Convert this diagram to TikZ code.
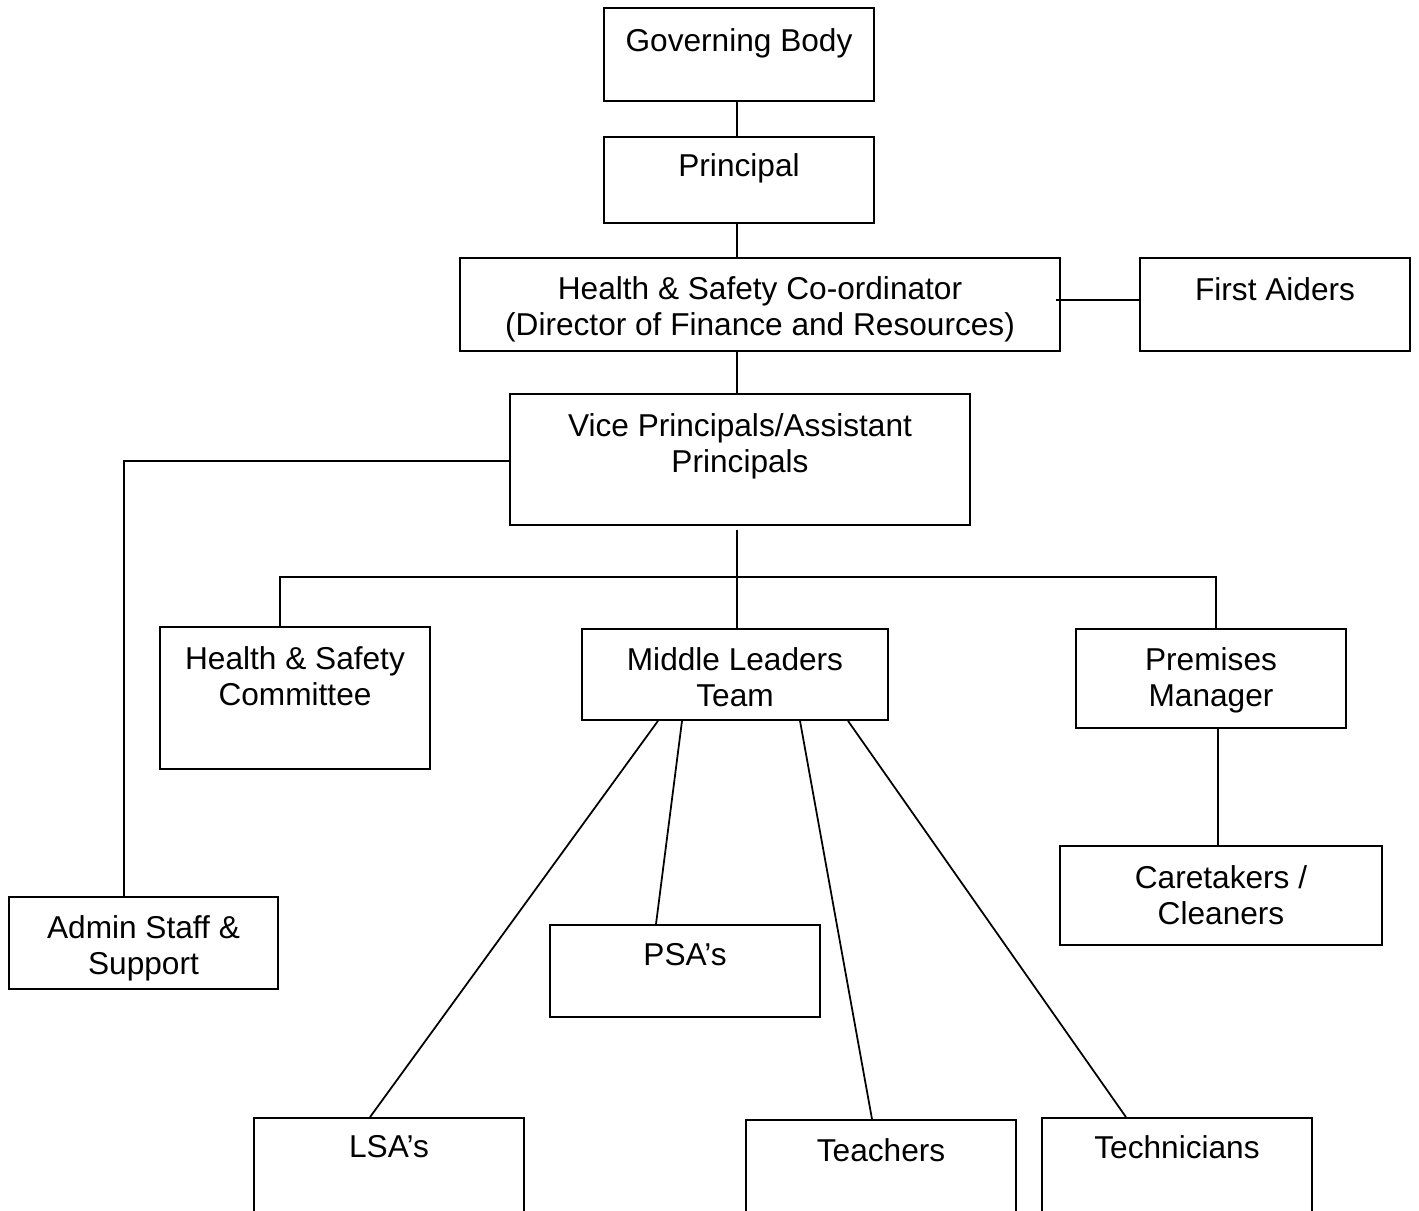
\documentclass[tikz,border=0pt]{standalone}
\usepackage{fontspec}
\setmainfont{Liberation Sans}
\usetikzlibrary{fit}
\begin{document}
\begin{tikzpicture}[x=0.02cm,y=-0.02cm,
  box/.style={draw,line width=1pt,inner sep=0pt,rectangle},
  txt/.style={anchor=north,inner sep=0pt,align=center,font=\fontsize{18}{20.8}\selectfont},
  conn/.style={line width=1pt}]
\useasboundingbox (0,0) rectangle (1419,1210);
\clip (0,0) rectangle (1419,1210);
\fill[white] (0,0) rectangle (1419,1210);
% boxes
\node[box,fit={(604,8)(874,101)}] (gb) {};
\node[box,fit={(604,137)(874,223)}] (pr) {};
\node[box,fit={(460,258)(1060,351)}] (hs) {};
\node[box,fit={(1140,258)(1410,351)}] (fa) {};
\node[box,fit={(510,394)(970,525)}] (vp) {};
\node[box,fit={(160,627)(430,769)}] (hsc) {};
\node[box,fit={(582,629)(888,720)}] (mlt) {};
\node[box,fit={(1076,629)(1346,728)}] (pm) {};
\node[box,fit={(1060,846)(1382,945)}] (cc) {};
\node[box,fit={(9,897)(278,989)}] (ad) {};
\node[box,fit={(550,925)(820,1017)}] (psa) {};
\node[box,fit={(254,1118)(524,1230)}] (lsa) {};
\node[box,fit={(746,1120)(1016,1230)}] (tea) {};
\node[box,fit={(1042,1118)(1312,1230)}] (tec) {};
% texts
\node[txt] at (gb.north |- 0,28) {Governing Body};
\node[txt] at (pr.north |- 0,153) {Principal};
\node[txt] at (hs.north |- 0,276) {Health \& Safety Co-ordinator\\(Director of Finance and Resources)};
\node[txt] at (fa.north |- 0,277) {First Aiders};
\node[txt] at (vp.north |- 0,413) {Vice Principals/Assistant\\Principals};
\node[txt] at (hsc.north |- 0,646) {Health \& Safety\\Committee};
\node[txt] at (mlt.north |- 0,647) {Middle Leaders\\Team};
\node[txt] at (pm.north |- 0,647) {Premises\\Manager};
\node[txt] at (cc.north |- 0,865) {Caretakers /\\Cleaners};
\node[txt] at (ad.north |- 0,915) {Admin Staff \&\\Support};
\node[txt] at (psa.north |- 0,943) {PSA’s};
\node[txt] at (lsa.north |- 0,1135) {LSA’s};
\node[txt] at (tea.north |- 0,1138) {Teachers};
\node[txt] at (tec.north |- 0,1135) {Technicians};
% connectors
\coordinate (bus) at (737,577);
\draw[conn] (gb.south -| 737,0) -- (pr.north -| 737,0);
\draw[conn] (pr.south -| 737,0) -- (hs.north -| 737,0);
\draw[conn] (fa.west |- 0,300) -- (hs.east |- 0,300) -- ++(-5,0);
\draw[conn] (hs.south -| 737,0) -- (vp.north -| 737,0);
\draw[conn] (vp.west |- 0,461) -- (124,461) -- (ad.north -| 124,0);
\draw[conn] ([yshift=-0.08cm]vp.south -| bus) -- (mlt.north -| bus);
\draw[conn] (hsc.north -| 280,0) -- (bus -| 280,0) -- (bus -| 1216,0) -- (pm.north -| 1216,0);
\draw[conn] (pm.south -| 1218,0) -- (cc.north -| 1218,0);
\draw[conn] (mlt.south -| 658,0) -- (lsa.north -| 370,0);
\draw[conn] (mlt.south -| 682,0) -- (psa.north -| 656,0);
\draw[conn] (mlt.south -| 800,0) -- (tea.north -| 872,0);
\draw[conn] (mlt.south -| 848,0) -- (tec.north -| 1126,0);
\end{tikzpicture}
\end{document}
